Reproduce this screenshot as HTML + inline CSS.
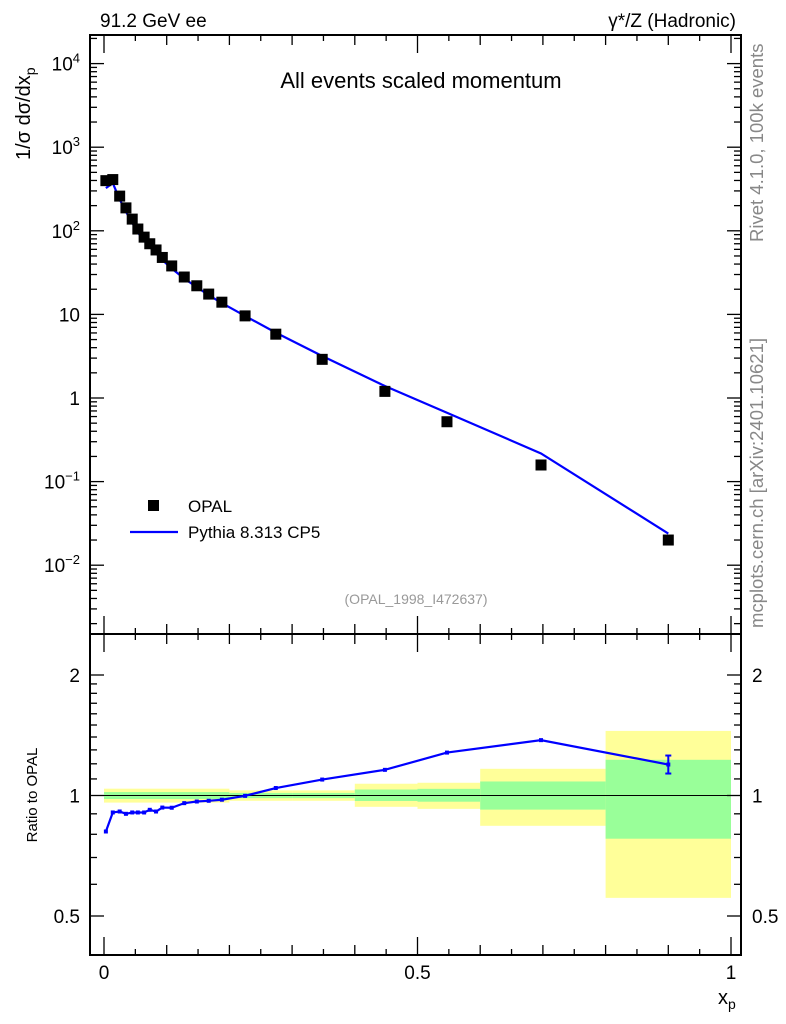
<!DOCTYPE html>
<html><head><meta charset="utf-8"><style>
body{margin:0;background:#fff;}
svg{display:block;font-family:"Liberation Sans",sans-serif;}
</style></head><body>
<svg id="c" width="786" height="1024"></svg>
<script>
const dataX=[0.003,0.014,0.025,0.035,0.045,0.054,0.064,0.073,0.083,0.093,0.108,0.128,0.148,0.167,0.188,0.225,0.274,0.348,0.448,0.547,0.697,0.900];
const dataY=[398,410,260,188,138,105,84,70,59,48,38,28,22,17.5,14,9.6,5.8,2.9,1.2,0.52,0.158,0.020];
const ratioY=[0.813,0.907,0.912,0.900,0.907,0.907,0.907,0.921,0.912,0.933,0.932,0.957,0.966,0.970,0.976,0.998,1.044,1.096,1.159,1.28,1.375,1.195];
const bandEdges=[0,0.2,0.3,0.4,0.5,0.6,0.8,1.0];
const yellowHi=[1.04,1.03,1.03,1.07,1.076,1.166,1.45];
const yellowLo=[0.96,0.97,0.97,0.937,0.926,0.84,0.555];
const greenHi=[1.02,1.015,1.015,1.035,1.039,1.084,1.228];
const greenLo=[0.98,0.985,0.985,0.969,0.965,0.922,0.78];
const yTickVals=[1e-2,1e-1,1,10,100,1e3,1e4];
const yTickLabels=["10<tspan dy='-8' font-size='13'>−2</tspan>","10<tspan dy='-8' font-size='13'>−1</tspan>","1","10","10<tspan dy='-8' font-size='13'>2</tspan>","10<tspan dy='-8' font-size='13'>3</tspan>","10<tspan dy='-8' font-size='13'>4</tspan>"];
const rTickVals=[0.5,1,2];
const xTickVals=[0,0.5,1];

const svg=document.getElementById('c');
const NS='http://www.w3.org/2000/svg';
const X=v=>104+v*627;
const Y=v=>398-83.6*Math.log10(v);
const R=v=>795.5-120.5*Math.log2(v);
function el(t,a,p){const e=document.createElementNS(NS,t);for(const k in a)e.setAttribute(k,a[k]);(p||svg).appendChild(e);return e;}
function txt(s,a){const e=el('text',a);e.innerHTML=s;return e;}

for(let i=0;i<yellowHi.length;i++){
  const x0=X(bandEdges[i]),x1=X(bandEdges[i+1]);
  const b=el('rect',{x:x0,y:R(yellowHi[i]),width:x1-x0,height:R(yellowLo[i])-R(yellowHi[i]),fill:'#ffff99'});
  
  
  const g=el('rect',{x:x0,y:R(greenHi[i]),width:x1-x0,height:R(greenLo[i])-R(greenHi[i]),fill:'#99ff99'});
  
  
}
el('line',{x1:90,x2:741,y1:R(1),y2:R(1),stroke:'#000','stroke-width':1});

const f1=el('rect',{x:90,y:35,width:651,height:599,fill:'none',stroke:'#000','stroke-width':2});

const f2=el('rect',{x:90,y:634,width:651,height:321,fill:'none',stroke:'#000','stroke-width':2});


for(let d=-3;d<=4;d++){for(let m=1;m<10;m++){const v=m*Math.pow(10,d);const y=Y(v);if(y<36||y>633)continue;const L=m==1?14:7;
  el('line',{x1:90,x2:90+L,y1:y,y2:y,stroke:'#000','stroke-width':1.3});el('line',{x1:741,x2:741-L,y1:y,y2:y,stroke:'#000','stroke-width':1.3});}}
yTickVals.forEach((v,i)=>{const t=txt(yTickLabels[i],{x:80,y:Y(v)+7,'text-anchor':'end','font-size':19});});
[0.5,0.6,0.7,0.8,0.9,1,1.1,1.2,1.3,1.4,1.5,1.6,1.7,1.8,1.9,2].forEach(v=>{const y=R(v);const L=(v==0.5||v==1||v==2)?14:7;
  el('line',{x1:90,x2:90+L,y1:y,y2:y,stroke:'#000','stroke-width':1.3});el('line',{x1:741,x2:741-L,y1:y,y2:y,stroke:'#000','stroke-width':1.3});});
rTickVals.forEach(v=>{const a=txt(String(v),{x:80,y:R(v)+7,'text-anchor':'end','font-size':19});
  const b=txt(String(v),{x:752,y:R(v)+7,'font-size':19});});
for(let i=0;i<=20;i++){const v=i*0.05,x=X(v);const L=i%10==0?18:(i%2==0?10:6);
  [[955,-1],[634,1],[634,-1],[35,1]].forEach(([y0,s])=>el('line',{x1:x,x2:x,y1:y0,y2:y0+s*L,stroke:'#000','stroke-width':1.3}));}
xTickVals.forEach(v=>{const t=txt(String(v),{x:X(v),y:979,'text-anchor':'middle','font-size':19});});

let pts=dataX.map((x,i)=>[X(x),Y(dataY[i]*ratioY[i])]);
const mc=el('polyline',{points:pts.map(p=>p.join(',')).join(' '),fill:'none',stroke:'#0000ff','stroke-width':2.2});

dataX.forEach((x,i)=>{const r=el('rect',{x:X(x)-5.5,y:Y(dataY[i])-5.5,width:11,height:11,fill:'#000'});
  });
pts=dataX.map((x,i)=>[X(x),R(ratioY[i])]);
const rl=el('polyline',{points:pts.map(p=>p.join(',')).join(' '),fill:'none',stroke:'#0000ff','stroke-width':2.2});

pts.forEach(p=>{const c=el('rect',{x:p[0]-2,y:p[1]-2,width:4,height:4,fill:'#0000ff'});});
const lp=pts[pts.length-1];
el('line',{x1:lp[0],x2:lp[0],y1:lp[1]-9,y2:lp[1]+9,stroke:'#0000ff','stroke-width':2});
el('line',{x1:lp[0]-3,x2:lp[0]+3,y1:lp[1]-9,y2:lp[1]-9,stroke:'#0000ff','stroke-width':2});
el('line',{x1:lp[0]-3,x2:lp[0]+3,y1:lp[1]+9,y2:lp[1]+9,stroke:'#0000ff','stroke-width':2});

function T(s,a,n){const t=txt(s,a);return t;}
T('91.2 GeV ee',{x:100,y:27,'font-size':19},'energy-label');
T('γ*/Z (Hadronic)',{x:736,y:27,'text-anchor':'end','font-size':19},'process-label');
T('All events scaled momentum',{x:421,y:88,'text-anchor':'middle','font-size':22},'plot-title');
T('1/σ  dσ/dx<tspan dy="5" font-size="14">p</tspan>',{x:0,y:0,'font-size':20,transform:'translate(30,160) rotate(-90)'},'y-axis-title');
T('Ratio to OPAL',{x:0,y:0,'font-size':15,'text-anchor':'middle',transform:'translate(37,795) rotate(-90)'},'ratio-axis-title');
T('x<tspan dy="5" font-size="14">p</tspan>',{x:718,y:1004,'font-size':20},'x-axis-title');
T('(OPAL_1998_I472637)',{x:416,y:604,'text-anchor':'middle','font-size':14,fill:'#999'},'analysis-id');
T('Rivet 4.1.0,  100k events',{x:0,y:0,'font-size':18.5,fill:'#888',transform:'translate(763,242) rotate(-90)'},'rivet-version');
T('mcplots.cern.ch [arXiv:2401.10621]',{x:0,y:0,'font-size':18.5,fill:'#888',transform:'translate(763,628) rotate(-90)'},'mcplots-credit');
const lg=el('rect',{x:148,y:500,width:11,height:11,fill:'#000'});
T('OPAL',{x:188,y:512,'font-size':17},'legend-entry-opal');
const ll=el('line',{x1:130,x2:178,y1:532,y2:532,stroke:'#0000ff','stroke-width':2.2});
T('Pythia 8.313 CP5',{x:188,y:538,'font-size':17},'legend-entry-pythia');
</script>
</body></html>
